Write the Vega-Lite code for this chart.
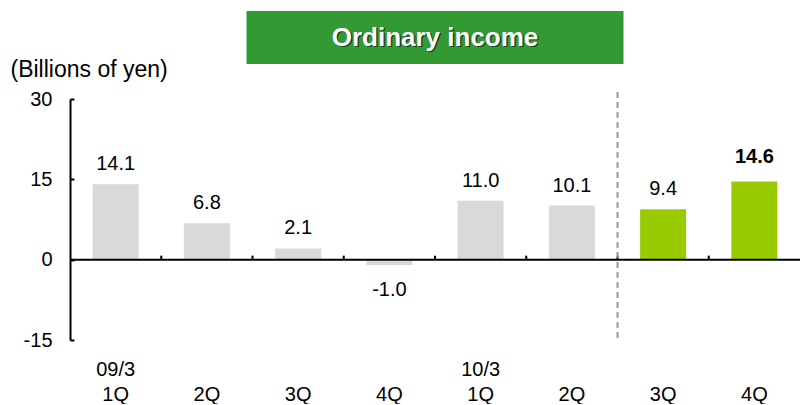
{
  "$schema": "https://vega.github.io/schema/vega-lite/v6.json",
  "background": "white",
  "padding": {"left": 10, "top": 11, "right": 0, "bottom": 0},
  "config": {"view": {"stroke": null}, "font": "Liberation Sans"},
  "bounds": "flush",
  "center": true,
  "spacing": 35,
  "datasets": {
    "quarters": [
      {"key": "09/3 1Q", "value": 14.1, "label": "14.1", "group": "past"},
      {"key": "09/3 2Q", "value": 6.8, "label": "6.8", "group": "past"},
      {"key": "09/3 3Q", "value": 2.1, "label": "2.1", "group": "past"},
      {"key": "09/3 4Q", "value": -1.0, "label": "-1.0", "group": "past"},
      {"key": "10/3 1Q", "value": 11.0, "label": "11.0", "group": "past"},
      {"key": "10/3 2Q", "value": 10.1, "label": "10.1", "group": "past"},
      {"key": "10/3 3Q", "value": 9.4, "label": "9.4", "group": "latest"},
      {"key": "10/3 4Q", "value": 14.6, "label": "14.6", "group": "latest"}
    ]
  },
  "vconcat": [
    {
      "width": 377,
      "height": 53,
      "view": {"fill": "#339933", "stroke": null},
      "data": {"values": [{"title": "Ordinary income"}]},
      "layer": [
        {
          "mark": {"type": "text", "fontSize": 26, "fontWeight": "bold", "color": "#1a1a1a", "opacity": 0.7, "dx": 1.5, "dy": 1.5, "baseline": "middle", "align": "center"},
          "encoding": {"text": {"field": "title"}}
        },
        {
          "mark": {"type": "text", "fontSize": 26, "fontWeight": "bold", "color": "white", "baseline": "middle", "align": "center"},
          "encoding": {"text": {"field": "title"}}
        }
      ]
    },
    {
      "width": 730,
      "height": 241,
      "data": {"name": "quarters"},
      "layer": [
        {
          "mark": {"type": "bar", "width": 46},
          "encoding": {
            "x": {
              "field": "key",
              "type": "nominal",
              "sort": null,
              "scale": {"paddingInner": 0, "paddingOuter": 0},
              "axis": {
                "orient": "bottom",
                "domain": false,
                "ticks": false,
                "title": null,
                "labelAngle": 0,
                "labelFontSize": 20,
                "labelColor": "black",
                "labelBaseline": "alphabetic",
                "labelPadding": 35,
                "labelLineHeight": 25,
                "labelExpr": "[slice(datum.value,5)=='1Q' ? slice(datum.value,0,4) : '', slice(datum.value,5)]"
              }
            },
            "y": {
              "field": "value",
              "type": "quantitative",
              "scale": {"domain": [-15, 30], "nice": false},
              "axis": {
                "values": [-15, 0, 15, 30],
                "labelExpr": "'' + datum.value",
                "grid": false,
                "domainColor": "black",
                "domainWidth": 2,
                "tickColor": "black",
                "tickWidth": 2,
                "tickSize": -4,
                "labelFontSize": 20,
                "labelColor": "black",
                "labelPadding": 22,
                "title": "(Billions of yen)",
                "titleAngle": 0,
                "titleAlign": "left",
                "titleBaseline": "alphabetic",
                "titleX": -60,
                "titleY": -23,
                "titleFontSize": 23,
                "titleFontWeight": "normal",
                "titleColor": "black"
              }
            },
            "color": {
              "field": "group",
              "type": "nominal",
              "scale": {"domain": ["past", "latest"], "range": ["#d9d9d9", "#99cc00"]},
              "legend": null
            }
          }
        },
        {
          "transform": [{"filter": "datum.value >= 0 && datum.key != '10/3 4Q'"}],
          "mark": {"type": "text", "fontSize": 20, "color": "black", "baseline": "alphabetic", "dy": -14},
          "encoding": {
            "x": {"field": "key", "type": "nominal", "sort": null},
            "y": {"field": "value", "type": "quantitative"},
            "text": {"field": "label"}
          }
        },
        {
          "transform": [{"filter": "datum.key == '10/3 4Q'"}],
          "mark": {"type": "text", "fontSize": 20, "fontWeight": "bold", "color": "black", "baseline": "alphabetic", "dy": -18},
          "encoding": {
            "x": {"field": "key", "type": "nominal", "sort": null},
            "y": {"field": "value", "type": "quantitative"},
            "text": {"field": "label"}
          }
        },
        {
          "transform": [{"filter": "datum.value < 0"}],
          "mark": {"type": "text", "fontSize": 20, "color": "black", "baseline": "alphabetic", "dy": 31},
          "encoding": {
            "x": {"field": "key", "type": "nominal", "sort": null},
            "y": {"field": "value", "type": "quantitative"},
            "text": {"field": "label"}
          }
        },
        {
          "transform": [{"filter": "datum.key == '09/3 1Q'"}],
          "mark": {"type": "rule", "color": "black", "strokeWidth": 2},
          "encoding": {"y": {"datum": 0}}
        },
        {
          "transform": [{"filter": "datum.key != '09/3 1Q'"}],
          "mark": {"type": "rule", "color": "black", "strokeWidth": 2},
          "encoding": {
            "x": {"field": "key", "type": "nominal", "sort": null, "bandPosition": 0},
            "y": {"datum": 0},
            "y2": {"datum": 0.75}
          }
        },
        {
          "transform": [{"filter": "datum.key == '10/3 3Q'"}],
          "mark": {"type": "rule", "color": "#9a9a9a", "strokeWidth": 2, "strokeDash": [6, 4]},
          "encoding": {
            "x": {"field": "key", "type": "nominal", "sort": null, "bandPosition": 0},
            "y": {"datum": 31.3},
            "y2": {"datum": -15}
          }
        }
      ]
    }
  ]
}
